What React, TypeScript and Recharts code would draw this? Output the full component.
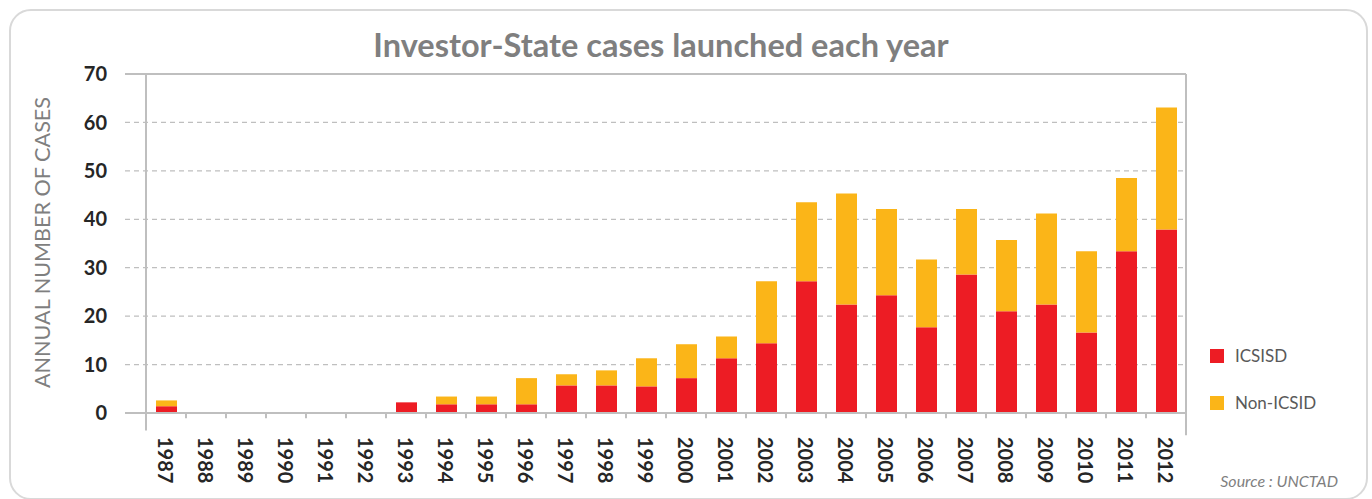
import React from 'react';
import {
  BarChart,
  Bar,
  XAxis,
  YAxis,
  CartesianGrid,
  Legend,
  ReferenceLine,
} from 'recharts';

const years = [
  '1987', '1988', '1989', '1990', '1991', '1992', '1993', '1994', '1995',
  '1996', '1997', '1998', '1999', '2000', '2001', '2002', '2003', '2004',
  '2005', '2006', '2007', '2008', '2009', '2010', '2011', '2012',
];

const icsid = [
  1.4, 0, 0, 0, 0, 0, 2.2, 1.8, 1.8, 1.8, 5.7, 5.7, 5.5, 7.2, 11.3, 14.4,
  27.2, 22.4, 24.3, 17.7, 28.6, 21.0, 22.4, 16.6, 33.4, 37.9,
];

const nonIcsid = [
  1.2, 0, 0, 0, 0, 0, 0, 1.6, 1.6, 5.4, 2.3, 3.1, 5.8, 7.0, 4.5, 12.8,
  16.3, 22.9, 17.8, 14.0, 13.5, 14.7, 18.8, 16.8, 15.1, 25.2,
];

const yTicks = [0, 10, 20, 30, 40, 50, 60, 70];

const chartData = years.map((year, i) => ({
  year,
  icsid: icsid[i],
  nonIcsid: nonIcsid[i],
}));

const FONT = 'Lato, "Open Sans", sans-serif';
const AXIS_GREY = '#bfbfbf';

const YearTick = ({ x, y, payload }: any) => (
  <text
    x={x}
    y={y}
    transform={`rotate(90, ${x}, ${y})`}
    textAnchor='start'
    dominantBaseline='central'
    fontFamily={FONT}
    fontWeight={700}
    fontSize={20}
    fill='#262626'
  >
    {payload.value}
  </text>
);

const AxisTitle = ({ viewBox }: any) => {
  const cy = viewBox.y + viewBox.height / 2 - 1;
  return (
    <text
      x={42}
      y={cy}
      transform={`rotate(-90, 42, ${cy})`}
      textAnchor='middle'
      dominantBaseline='central'
      fontFamily={FONT}
      fontSize={21.6}
      fill='#7f7f7f'
    >
      ANNUAL NUMBER OF CASES
    </text>
  );
};

const LegendContent = ({ payload }: any) => (
  <div style={{ fontFamily: FONT, fontSize: 17, color: '#595959' }}>
    {(payload || []).map((entry: any) => (
      <div
        key={entry.value}
        style={{ display: 'flex', alignItems: 'center', height: 47 }}
      >
        <span
          style={{
            display: 'inline-block',
            width: 14,
            height: 14,
            background: entry.color,
            marginRight: 11,
          }}
        />
        <span>{entry.value}</span>
      </div>
    ))}
  </div>
);

export default function App() {
  return (
    <div
      style={{
        position: 'absolute',
        left: 0,
        top: 0,
        width: 1372,
        height: 499,
        background: '#fff',
        overflow: 'hidden',
      }}
    >
      {/* rounded frame */}
      <div
        style={{
          position: 'absolute',
          left: 9,
          top: 9,
          width: 1355,
          height: 487,
          border: '2px solid #d9d9d9',
          borderRadius: 22,
        }}
      />

      <div
        style={{
          position: 'absolute',
          left: 0,
          top: 29,
          width: 1322,
          textAlign: 'center',
          fontFamily: FONT,
          fontWeight: 700,
          fontSize: 32.5,
          lineHeight: 1,
          color: '#7f7f7f',
        }}
      >
        Investor-State cases launched each year
      </div>

      <div style={{ position: 'absolute', left: 0, top: 0 }}>
        <BarChart
          width={1372}
          height={499}
          data={chartData}
          margin={{ top: 74, right: 186, bottom: 26, left: 0 }}
        >
          <CartesianGrid
            vertical={false}
            stroke={AXIS_GREY}
            strokeWidth={1.3}
            strokeDasharray='5 4'
          />
          <XAxis
            dataKey='year'
            height={60}
            padding={{ left: 21, right: 0 }}
            axisLine={{ stroke: AXIS_GREY, strokeWidth: 2 }}
            tickLine={false}
            tickSize={0}
            tickMargin={24}
            interval={0}
            tick={<YearTick />}
          />
          <YAxis
            width={125}
            domain={[0, 70]}
            ticks={yTicks}
            interval={0}
            axisLine={false}
            tickLine={false}
            tickSize={0}
            tickMargin={18}
            tick={{
              fontFamily: FONT,
              fontWeight: 700,
              fontSize: 20,
              fill: '#262626',
            }}
            label={<AxisTitle />}
          />
          <ReferenceLine y={70} stroke={AXIS_GREY} strokeWidth={2} />
          {/* left frame line, at the start of the first category */}
          <ReferenceLine
            position='start'
            stroke={AXIS_GREY}
            strokeWidth={2}
            ifOverflow='visible'
            segment={[
              { x: years[0], y: 70 },
              { x: years[0], y: -3.6 },
            ]}
          />
          {/* right frame line, at the end of the last category */}
          <ReferenceLine
            position='end'
            stroke={AXIS_GREY}
            strokeWidth={2}
            ifOverflow='visible'
            segment={[
              { x: years[years.length - 1], y: 70 },
              { x: years[years.length - 1], y: -4.6 },
            ]}
          />
          {/* tick marks between categories */}
          {years.slice(1).map((yr) => (
            <ReferenceLine
              key={`tick-${yr}`}
              position='start'
              stroke={AXIS_GREY}
              strokeWidth={2}
              ifOverflow='visible'
              segment={[
                { x: yr, y: 0 },
                { x: yr, y: -1.1 },
              ]}
            />
          ))}
          <Bar
            dataKey='icsid'
            name='ICSISD'
            stackId='cases'
            fill='#ed1c24'
            barSize={21}
            isAnimationActive={false}
          />
          <Bar
            dataKey='nonIcsid'
            name='Non-ICSID'
            stackId='cases'
            fill='#fbb518'
            barSize={21}
            isAnimationActive={false}
          />
          <Legend
            layout='vertical'
            align='center'
            verticalAlign='middle'
            wrapperStyle={{ left: 1210, top: 332, width: 150 }}
            content={<LegendContent />}
          />
        </BarChart>
      </div>

      <div
        style={{
          position: 'absolute',
          right: 34,
          top: 473,
          fontFamily: FONT,
          fontStyle: 'italic',
          fontSize: 16,
          lineHeight: 1,
          color: '#7f7f7f',
        }}
      >
        Source : UNCTAD
      </div>
    </div>
  );
}
